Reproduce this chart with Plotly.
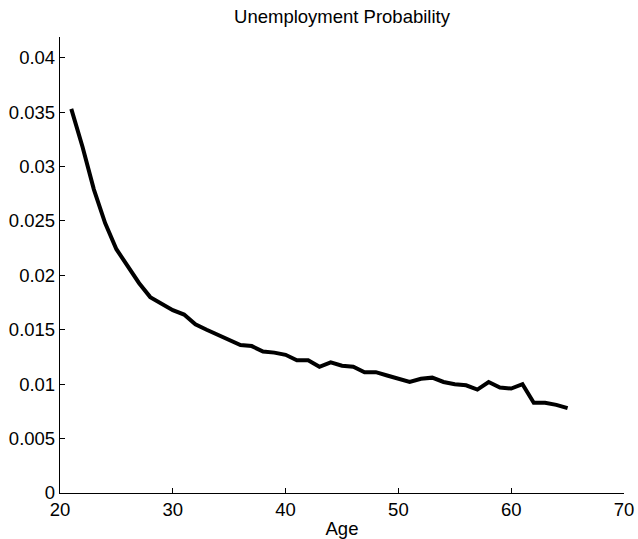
import plotly.graph_objects as go

ages = list(range(21, 66))
unemp_prob = [
    0.0353, 0.0318, 0.0279, 0.0248, 0.0224, 0.0208, 0.0193, 0.0180, 0.0174, 0.0168,
    0.0164, 0.0155, 0.0150, 0.0145, 0.0141, 0.0136, 0.0135, 0.0130, 0.0129, 0.0127,
    0.0122, 0.0122, 0.0116, 0.0120, 0.0117, 0.0116, 0.0111, 0.0111, 0.0108, 0.0105,
    0.0102, 0.0105, 0.0106, 0.0102, 0.0100, 0.0099, 0.0095, 0.0102, 0.0097, 0.0096,
    0.0100, 0.0083, 0.0083, 0.0081, 0.0078,
]
x_ticks = [20, 30, 40, 50, 60, 70]
y_ticks = [0, 0.005, 0.01, 0.015, 0.02, 0.025, 0.03, 0.035, 0.04]
y_tick_labels = ["0", "0.005", "0.01", "0.015", "0.02", "0.025", "0.03", "0.035", "0.04"]

font_family = "Liberation Sans, Arial, sans-serif"
FS = 18.5

fig = go.Figure()
fig.add_trace(go.Scatter(
    x=ages, y=unemp_prob, mode="lines",
    line=dict(color="black", width=4),
    showlegend=False, hoverinfo="x+y",
))

fig.update_layout(
    width=638, height=539,
    margin=dict(l=60, r=14, t=37, b=46, autoexpand=False),
    paper_bgcolor="white", plot_bgcolor="white",
    font=dict(family=font_family, size=FS, color="black"),
    title=dict(text="Unemployment Probability", x=(342) / 638, xanchor="center",
               y=1 - 17 / 539, yanchor="middle",
               font=dict(size=FS, family=font_family, color="black")),
)
fig.update_xaxes(
    range=[20, 70], tickvals=x_ticks, ticktext=[str(v) for v in x_ticks],
    showline=True, linecolor="black", linewidth=1.3, mirror=False,
    ticks="inside", ticklen=5, tickwidth=1.3, tickcolor="black",
    showgrid=False, zeroline=False, automargin=False,
    title=dict(text="Age", standoff=4, font=dict(size=FS)),
    tickfont=dict(size=FS),
)
fig.update_yaxes(
    range=[0, 0.0419], tickvals=y_ticks, ticktext=y_tick_labels,
    showline=True, linecolor="black", linewidth=1.3, mirror=False,
    ticks="inside", ticklen=5, tickwidth=1.3, tickcolor="black",
    showgrid=False, zeroline=False, automargin=False,
    tickfont=dict(size=FS),
)

fig.write_html("out.html", config={"displayModeBar": False},
               post_script="document.body.style.margin='0';")
